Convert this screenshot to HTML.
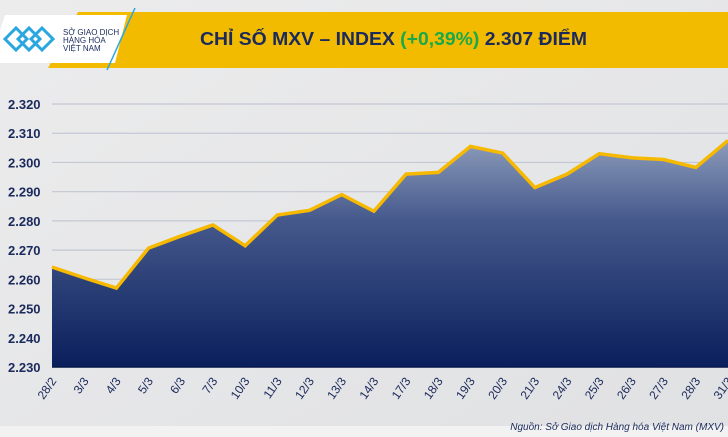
<!DOCTYPE html>
<html><head><meta charset="utf-8"><style>
body{margin:0;width:728px;height:437px;overflow:hidden;background:#e6e7e9;font-family:"Liberation Sans",sans-serif}
svg{display:block}
</style></head><body>
<svg width="728" height="437">
<defs>
<linearGradient id="ag" x1="0" y1="0" x2="0" y2="1">
<stop offset="0" stop-color="#8d9cbb"/><stop offset="0.35" stop-color="#45598c"/><stop offset="1" stop-color="#0a1f5c"/>
</linearGradient>
<linearGradient id="bg" x1="0" y1="0" x2="1" y2="1">
<stop offset="0" stop-color="#ececed"/><stop offset="1" stop-color="#e0e1e3"/>
</linearGradient>
</defs>
<rect width="728" height="437" fill="url(#bg)"/>
<rect x="0" y="426" width="728" height="11" fill="#f2f2f2"/>
<polygon points="78,12 728,12 728,68 48,68" fill="#f3bb00"/>
<polygon points="5,15 127,15 115,63 0,63 0,30" fill="#ffffff"/>
<line x1="135" y1="8" x2="107" y2="70" stroke="#2aa7e0" stroke-width="1.5"/>
<g fill="none" stroke="#2aa7e0" stroke-width="3">
<path d="M5,39 l11,-11 l11,11 l-11,11z M18,39 l11,-11 l11,11 l-11,11z M31,39 l11,-11 l11,11 l-11,11z"/>
</g>
<text x="63" y="35" font-size="8" fill="#1b2a5c">SỞ GIAO DỊCH</text>
<text x="63" y="43" font-size="8" fill="#1b2a5c">HÀNG HÓA</text>
<text x="63" y="51" font-size="8" fill="#1b2a5c">VIỆT NAM</text>
<text x="200" y="45" font-size="18.5" font-weight="bold" fill="#1b2a5c" textLength="387" lengthAdjust="spacingAndGlyphs">CHỈ SỐ MXV – INDEX <tspan fill="#1aa84b">(+0,39%)</tspan> 2.307 ĐIỂM</text>
<g id="grid"></g><g id="area"></g><g id="ylab"></g><g id="xlab"></g>
<text x="724" y="430" font-size="10" font-style="italic" fill="#1b2a5c" text-anchor="end">Nguồn: Sở Giao dịch Hàng hóa Việt Nam (MXV)</text>
</svg>
<script>
const categories=["28/2","3/3","4/3","5/3","6/3","7/3","10/3","11/3","12/3","13/3","14/3","17/3","18/3","19/3","20/3","21/3","24/3","25/3","26/3","27/3","28/3","31/3"];
const values=[2264.2,2260.5,2257.0,2270.7,2274.8,2278.6,2271.5,2282.0,2283.6,2289.0,2283.3,2296.0,2296.6,2305.5,2303.2,2291.4,2296.0,2303.0,2301.6,2301.0,2298.3,2307.5];
const yTicks=[2230,2240,2250,2260,2270,2280,2290,2300,2310,2320];
const NS="http://www.w3.org/2000/svg";
const x0=52,x1=728,yB=367,yT=104,vMin=2230,vMax=2320;
const xs=i=>x0+(x1-x0)*i/(categories.length-1);
const ys=v=>yB-(v-vMin)/(vMax-vMin)*(yB-yT);
function mk(t,a,p){const e=document.createElementNS(NS,t);for(const k in a)e.setAttribute(k,a[k]);p.appendChild(e);return e;}
const grid=document.getElementById('grid'),area=document.getElementById('area'),yl=document.getElementById('ylab'),xl=document.getElementById('xlab');
yTicks.forEach(v=>{
 const l=mk('line',{x1:x0,x2:728,y1:ys(v),y2:ys(v),stroke:'#c3c8d3','stroke-width':1.2},grid);
 
 
 const t=mk('text',{x:8,y:ys(v)+5,'font-size':13,'font-weight':'bold',fill:'#1b2a5c'},yl);
 t.textContent=(v/1000).toFixed(3);
 
 
});
let pts=values.map((v,i)=>xs(i)+','+ys(v)).join(' ');
const poly=mk('polygon',{points:x0+','+yB+' '+pts+' '+x1+','+yB,fill:'url(#ag)'},area);


const bl=mk('line',{x1:x0,x2:x1,y1:yB,y2:yB,stroke:'#08184a','stroke-width':1.5},area);


const pl=mk('polyline',{points:pts,fill:'none',stroke:'#f6b900','stroke-width':3.5,'stroke-linejoin':'miter'},area);


categories.forEach((c,i)=>{
 const x=xs(i)+5,y=381;
 const t=mk('text',{x:x,y:y,'font-size':12,fill:'#1b2a5c','text-anchor':'end',transform:'rotate(-55 '+x+' '+y+')'},xl);
 t.textContent=c;
 
 
});
</script>
</body></html>
